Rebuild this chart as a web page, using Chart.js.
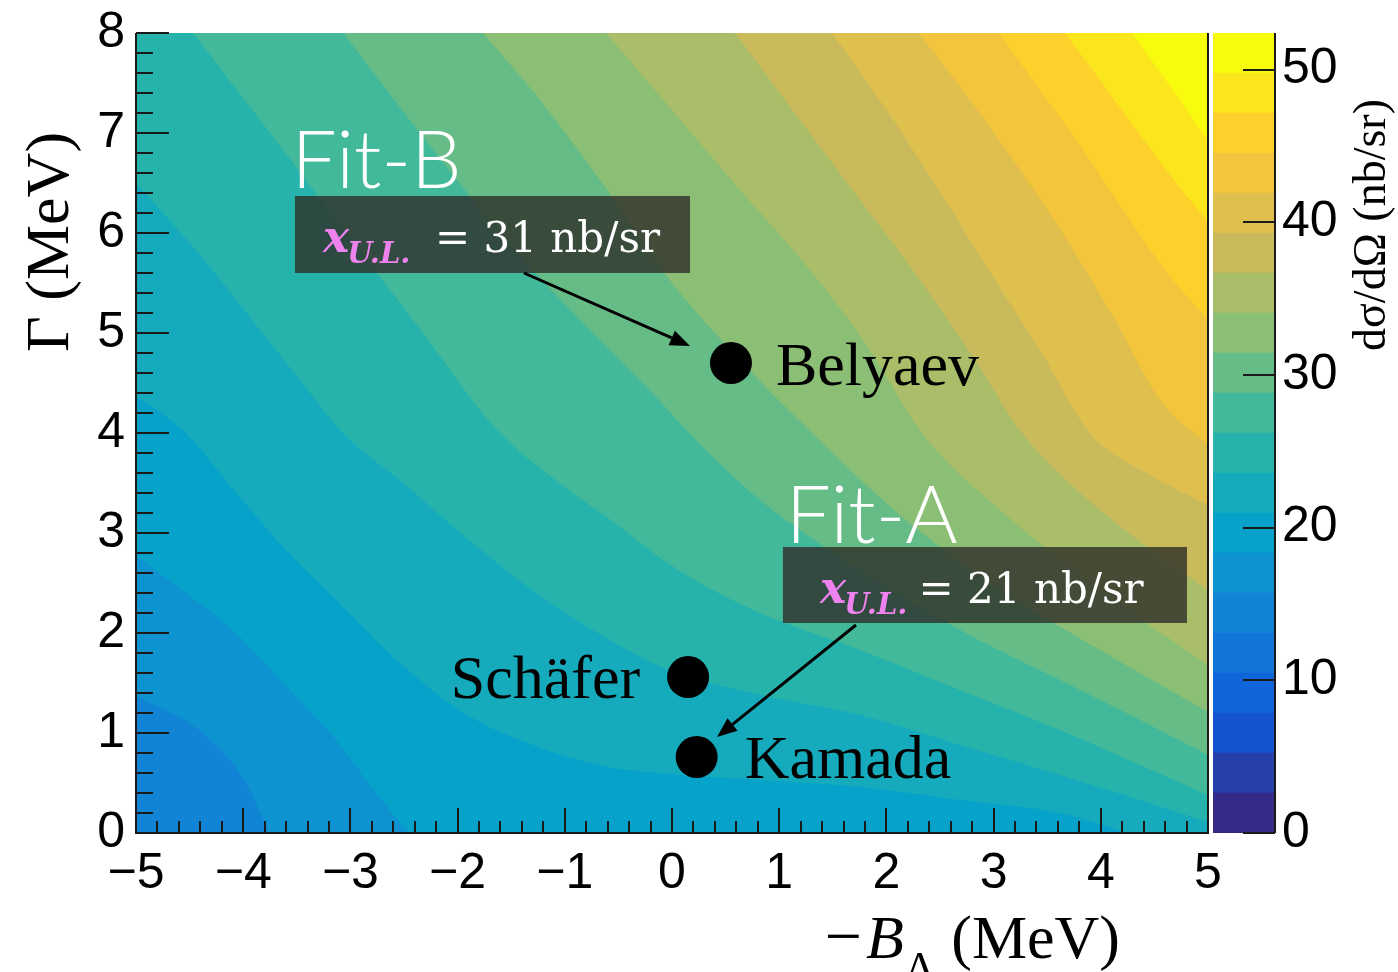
<!DOCTYPE html>
<html>
<head>
<meta charset="utf-8">
<title>Upper limit map</title>
<script src="https://cdn.jsdelivr.net/npm/chart.js@4.4.1/dist/chart.umd.min.js"></script>
<style>
  html, body { margin: 0; padding: 0; background: #fff; }
  #wrap { position: relative; width: 1398px; height: 972px; overflow: hidden; }
  #main { position: absolute; left: 0; top: 0; }
  #zbar { position: absolute; left: 1213px; top: 0; }
</style>
</head>
<body>
<div id="wrap">
  <canvas id="main" width="1398" height="972"></canvas>
  <canvas id="zbar" width="185" height="972"></canvas>
</div>
<script>
"use strict";

// axes
const xTicks = [-5, -4, -3, -2, -1, 0, 1, 2, 3, 4, 5];
const yTicks = [0, 1, 2, 3, 4, 5, 6, 7, 8];
const zTicks = [0, 10, 20, 30, 40, 50];

// 20 contour levels of dsigma/dOmega (nb/sr)
const zLevels = [0, 2.62, 5.24, 7.86, 10.48, 13.1, 15.72, 18.34, 20.96, 23.58, 26.2,
  28.82, 31.44, 34.06, 36.68, 39.3, 41.92, 44.54, 47.16, 49.78, 52.4];

// band seen in the bottom-left corner, below the first contour line
const lowestBand = 5;

// contour lines: [-B_Lambda, Gamma] where the value crosses zLevels[k]
const contour6 = [[-5, 1.37], [-4.375, 1.0], [-3.974, 0.5], [-3.759, 0], [-3.6, -0.37], [5, -0.37]];
const contour7 = [[-5, 2.77], [-4.534, 2.4], [-4.067, 2.0], [-3.601, 1.47], [-3.134, 0.93],
  [-2.761, 0.4], [-2.453, 0], [-2.2, -0.33], [5, -0.33]];
const contour8 = [[-5, 4.37], [-4.534, 4.0], [-4.067, 3.4], [-3.601, 2.83], [-3.134, 2.33],
  [-2.509, 1.67], [-1.894, 1.17], [-1.269, 0.87], [-0.644, 0.67], [-0.121, 0.6], [0.821, 0.53],
  [1.754, 0.46], [2.687, 0.33], [3.619, 0.2], [4.244, 0], [5, -0.24]];
const contour9 = [[-5, 6.5], [-4.403, 5.78], [-3.843, 5.03], [-3.47, 4.53], [-3.069, 4.0],
  [-2.509, 3.5], [-1.894, 2.93], [-1.269, 2.4], [-0.644, 1.97], [-0.121, 1.67], [0.261, 1.53],
  [0.821, 1.38], [1.754, 1.18], [2.687, 0.88], [3.619, 0.58], [4.366, 0.33], [5, 0.11]];
const contour10 = [[-4.468, 8], [-3.75, 7], [-3.041, 6], [-2.323, 5], [-1.65, 4.05], [-1.05, 3.5],
  [-0.494, 3.07], [-0.121, 2.76], [0.261, 2.5], [0.821, 2.2], [1.754, 1.83], [2.687, 1.43],
  [3.619, 1.03], [4.366, 0.68], [5, 0.38]];
const contour11 = [[-3.069, 8], [-2.351, 7], [-1.604, 6], [-0.858, 5.13], [-0.121, 4.33],
  [0.159, 4.0], [0.821, 3.33], [1.754, 2.63], [2.687, 2.03], [3.619, 1.53], [4.366, 1.13], [5, 0.78]];
const contour12 = [[-1.763, 8], [-1.231, 7.33], [-0.672, 6.53], [0, 5.5], [0.634, 4.73],
  [1.306, 4.0], [2.127, 3.18], [3.06, 2.43], [3.993, 1.83], [5, 1.21]];
const contour13 = [[-0.616, 8], [0, 7.23], [0.634, 6.43], [1.287, 5.63], [1.847, 4.83],
  [2.332, 4.0], [3.06, 3.23], [3.993, 2.43], [5, 1.68]];
const contour14 = [[0.588, 8], [1.194, 7.13], [1.754, 6.33], [2.313, 5.53], [2.827, 4.73],
  [3.265, 4.0], [3.993, 3.23], [5, 2.43]];
const contour15 = [[1.493, 8], [2.034, 7.18], [2.547, 6.33], [3.013, 5.53], [3.433, 4.83],
  [3.899, 4.0], [4.459, 3.58], [5, 3.28]];
const contour16 = [[2.304, 8], [2.78, 7.33], [3.246, 6.63], [3.713, 5.88], [4.133, 5.13],
  [4.552, 4.33], [5, 3.88]];
const contour17 = [[3.05, 8], [3.433, 7.43], [3.806, 6.88], [4.179, 6.28], [4.599, 5.63], [5, 5.13]];
const contour18 = [[3.666, 8], [3.993, 7.53], [4.319, 7.05], [4.646, 6.58], [5, 6.11]];
const contour19 = [[4.291, 8], [4.552, 7.61], [4.785, 7.26], [5, 6.93]];

const contours = [
  [6, contour6], [7, contour7], [8, contour8], [9, contour9], [10, contour10],
  [11, contour11], [12, contour12], [13, contour13], [14, contour14], [15, contour15],
  [16, contour16], [17, contour17], [18, contour18], [19, contour19],
];

// theory predictions
const models = ["Belyaev", "Schäfer", "Kamada"];
const modelB = [0.55, 0.15, 0.23];
const modelGamma = [4.70, 1.56, 0.76];

// fits and their upper limits
const fitNames = ["Fit-B", "Fit-A"];
const fitLimits = [31, 21];

// ROOT kBird palette
const birdStops = [0, 0.125, 0.25, 0.375, 0.5, 0.625, 0.75, 0.875, 1];
const birdR = [0.2082, 0.0592, 0.0780, 0.0232, 0.1802, 0.5301, 0.8186, 0.9956, 0.9764];
const birdG = [0.1664, 0.3599, 0.5041, 0.6419, 0.7178, 0.7492, 0.7328, 0.7862, 0.9832];
const birdB = [0.5293, 0.8684, 0.8385, 0.7914, 0.6425, 0.4662, 0.3499, 0.1968, 0.0539];

function bandColor(i) {
  const f = i / (zLevels.length - 2);
  let k = 0;
  while (k < birdStops.length - 2 && f > birdStops[k + 1]) k++;
  const t = (f - birdStops[k]) / (birdStops[k + 1] - birdStops[k]);
  const c = (arr) => Math.round(255 * (arr[k] + (arr[k + 1] - arr[k]) * t));
  return `rgb(${c(birdR)},${c(birdG)},${c(birdB)})`;
}

const SANS = "'Liberation Sans', Arial, sans-serif";
const SERIF = "'Liberation Serif', 'Times New Roman', serif";
const MATH = "'DejaVu Serif', serif";

// annotation placement, in axis units
const fitLayout = [
  { title: [-3.55, 6.45], box: [-3.517, 0.168, 5.60, 6.37], text: [-3.256, 5.81], eqX: -2.211, from: [-1.381, 5.60], to: [0.168, 4.87] },
  { title: [1.06, 2.90], box: [1.035, 4.804, 2.10, 2.86], text: [1.38, 2.30], eqX: 2.30, from: [1.716, 2.08], to: [0.42, 0.96] },
];
const labelLayout = [
  { dx: 45, dy: 22, align: "left" },
  { dx: -48, dy: 21, align: "right" },
  { dx: 48, dy: 21, align: "left" },
];

function arrow(ctx, x1, y1, x2, y2) {
  const ang = Math.atan2(y2 - y1, x2 - x1);
  const hl = 20, hw = 8;
  const bx = x2 - Math.cos(ang) * hl, by = y2 - Math.sin(ang) * hl;
  ctx.strokeStyle = "#000";
  ctx.lineWidth = 3;
  ctx.beginPath();
  ctx.moveTo(x1, y1);
  ctx.lineTo(bx, by);
  ctx.stroke();
  ctx.fillStyle = "#000";
  ctx.beginPath();
  ctx.moveTo(x2, y2);
  ctx.lineTo(bx + Math.sin(ang) * hw, by - Math.cos(ang) * hw);
  ctx.lineTo(bx - Math.sin(ang) * hw, by + Math.cos(ang) * hw);
  ctx.closePath();
  ctx.fill();
}

const deco = {
  id: "deco",
  beforeDatasetsDraw(chart) {
    const { ctx, chartArea: a } = chart;
    ctx.save();
    ctx.fillStyle = bandColor(lowestBand);
    ctx.fillRect(a.left, a.top, a.right - a.left, a.bottom - a.top);
    ctx.restore();
  },
  afterDatasetsDraw(chart) {
    const { ctx, chartArea: a, scales: { x, y } } = chart;
    ctx.save();

    // ticks pointing into the frame, ROOT style
    ctx.strokeStyle = "#1a1a1a";
    ctx.lineWidth = 2;
    ctx.beginPath();
    for (let i = 0; i <= 50; i++) {
      const px = Math.round(x.getPixelForValue(-5 + i * 0.2));
      const len = i % 5 === 0 ? 25 : 12;
      ctx.moveTo(px, a.bottom);
      ctx.lineTo(px, a.bottom - len);
    }
    for (let i = 0; i <= 40; i++) {
      const py = Math.round(y.getPixelForValue(i * 0.2));
      const len = i % 5 === 0 ? 33 : 17;
      ctx.moveTo(a.left, py);
      ctx.lineTo(a.left + len, py);
    }
    ctx.moveTo(a.left, a.top);
    ctx.lineTo(a.left, a.bottom);
    ctx.lineTo(a.right, a.bottom);
    ctx.lineTo(a.right, a.top);
    ctx.stroke();

    // model labels
    ctx.fillStyle = "#000";
    ctx.font = `62px ${SERIF}`;
    ctx.textBaseline = "alphabetic";
    models.forEach((m, i) => {
      const l = labelLayout[i];
      ctx.textAlign = l.align;
      ctx.fillText(m, x.getPixelForValue(modelB[i]) + l.dx, y.getPixelForValue(modelGamma[i]) + l.dy);
    });

    // fit boxes
    fitNames.forEach((name, i) => {
      const f = fitLayout[i];
      const bx0 = x.getPixelForValue(f.box[0]), bx1 = x.getPixelForValue(f.box[1]);
      const by0 = y.getPixelForValue(f.box[3]), by1 = y.getPixelForValue(f.box[2]);
      ctx.fillStyle = "rgba(46,46,40,0.8)";
      ctx.fillRect(bx0, by0, bx1 - bx0, by1 - by0);

      ctx.textAlign = "left";
      ctx.fillStyle = "#fff";
      ctx.font = `300 80px Lato, ${SANS}`;
      ctx.fillText(name, x.getPixelForValue(f.title[0]), y.getPixelForValue(f.title[1]));

      const tx = x.getPixelForValue(f.text[0]), ty = y.getPixelForValue(f.text[1]);
      ctx.fillStyle = "#ee82ee";
      ctx.font = `italic bold 44px ${MATH}`;
      ctx.fillText("x", tx, ty);
      const w = ctx.measureText("x").width;
      ctx.font = `italic bold 29px ${MATH}`;
      ctx.fillText("U.L.", tx + w - 2, ty + 11);
      ctx.fillStyle = "#fff";
      ctx.font = `42px ${MATH}`;
      ctx.fillText(`= ${fitLimits[i]} nb/sr`, x.getPixelForValue(f.eqX), ty);

      arrow(ctx, x.getPixelForValue(f.from[0]), y.getPixelForValue(f.from[1]),
        x.getPixelForValue(f.to[0]), y.getPixelForValue(f.to[1]));
    });

    // axis titles
    ctx.fillStyle = "#000";
    ctx.textAlign = "left";
    const parts = [
      { t: "\u2212", f: `66px ${SERIF}`, dy: 0, gap: 4 },
      { t: "B", f: `italic 62px ${SERIF}`, dy: 0, gap: 0 },
      { t: "\u039B", f: `44px ${SERIF}`, dy: 24, gap: 0 },
      { t: " (MeV)", f: `62px ${SERIF}`, dy: 0, gap: 0 },
    ];
    let total = 0;
    parts.forEach((p) => { ctx.font = p.f; p.w = ctx.measureText(p.t).width + p.gap; total += p.w; });
    let cx = a.right - 88 - total;
    const base = a.bottom + 125;
    parts.forEach((p) => { ctx.font = p.f; ctx.fillText(p.t, cx, base + p.dy); cx += p.w; });

    ctx.translate(a.left - 68, a.top + 209);
    ctx.rotate(-Math.PI / 2);
    ctx.textAlign = "center";
    ctx.font = `62px ${SERIF}`;
    ctx.fillText("\u0393 (MeV)", 0, 0);
    ctx.restore();
  },
};

const datasets = contours.map(([k, pts]) => ({
  data: pts.map((p) => ({ x: p[0], y: p[1] })),
  fill: "end",
  backgroundColor: bandColor(k),
  borderColor: "rgba(0,0,0,0)",
  borderWidth: 1,
  pointRadius: 0,
  cubicInterpolationMode: "monotone",
  order: 100 - k,
}));

datasets.push({
  type: "scatter",
  data: models.map((m, i) => ({ x: modelB[i], y: modelGamma[i] })),
  pointRadius: 21,
  pointBackgroundColor: "#000",
  pointBorderWidth: 0,
  showLine: false,
  order: 0,
});

const xFont = { family: "Liberation Sans", size: 50 };
const yFont = { family: "Liberation Sans", size: 50, lineHeight: 0.8 };

new Chart(document.getElementById("main"), {
  type: "line",
  data: { datasets },
  options: {
    responsive: false,
    animation: false,
    events: [],
    layout: { padding: { top: 33, right: 190, left: 0, bottom: 0 } },
    plugins: { legend: { display: false }, tooltip: { enabled: false } },
    scales: {
      x: {
        type: "linear",
        min: -5,
        max: 5,
        afterBuildTicks: (s) => { s.ticks = xTicks.map((v) => ({ value: v })); },
        afterFit: (s) => { s.height = 139; },
        ticks: {
          font: xFont,
          color: "#000",
          padding: 11,
          maxRotation: 0,
          autoSkip: false,
          callback: (v) => String(v).replace("-", "\u2212"),
        },
        grid: { display: false, drawTicks: false, tickLength: 0 },
        border: { display: false },
      },
      y: {
        type: "linear",
        min: 0,
        max: 8,
        afterBuildTicks: (s) => { s.ticks = yTicks.map((v) => ({ value: v })); },
        afterFit: (s) => { s.width = 136; },
        ticks: { font: yFont, color: "#000", padding: 11 },
        grid: { display: false, drawTicks: false, tickLength: 0 },
        border: { display: false },
      },
    },
  },
  plugins: [deco],
});

// colour scale
const zbarDeco = {
  id: "zbarDeco",
  afterDatasetsDraw(chart) {
    const { ctx, chartArea: a, scales: { y } } = chart;
    ctx.save();
    ctx.strokeStyle = "#1a1a1a";
    ctx.lineWidth = 2;
    ctx.beginPath();
    ctx.moveTo(a.right, a.top);
    ctx.lineTo(a.right, a.bottom);
    zTicks.forEach((v) => {
      const py = Math.round(y.getPixelForValue(v));
      ctx.moveTo(a.right, py);
      ctx.lineTo(a.right - 32, py);
    });
    ctx.stroke();
    ctx.translate(a.right + 110, a.top + 192);
    ctx.rotate(-Math.PI / 2);
    ctx.fillStyle = "#000";
    ctx.textAlign = "center";
    ctx.font = `46px ${SERIF}`;
    ctx.fillText("d\u03C3/d\u03A9 (nb/sr)", 0, 0);
    ctx.restore();
  },
};

new Chart(document.getElementById("zbar"), {
  type: "bar",
  data: {
    labels: [""],
    datasets: zLevels.slice(1).map((lv, i) => ({
      data: [+(lv - zLevels[i]).toFixed(2)],
      backgroundColor: bandColor(i),
      borderWidth: 0,
      barPercentage: 1,
      categoryPercentage: 1,
    })),
  },
  options: {
    responsive: false,
    animation: false,
    events: [],
    layout: { padding: { top: 33, bottom: 139, left: 0, right: 0 } },
    plugins: { legend: { display: false }, tooltip: { enabled: false } },
    scales: {
      x: { display: false, stacked: true },
      y: {
        stacked: true,
        position: "right",
        min: 0,
        max: 52.4,
        afterBuildTicks: (s) => { s.ticks = zTicks.map((v) => ({ value: v })); },
        afterFit: (s) => { s.width = 123; },
        ticks: { font: yFont, color: "#000", padding: 7 },
        grid: { display: false, drawTicks: false, tickLength: 0 },
        border: { display: false },
      },
    },
  },
  plugins: [zbarDeco],
});
</script>
</body>
</html>
